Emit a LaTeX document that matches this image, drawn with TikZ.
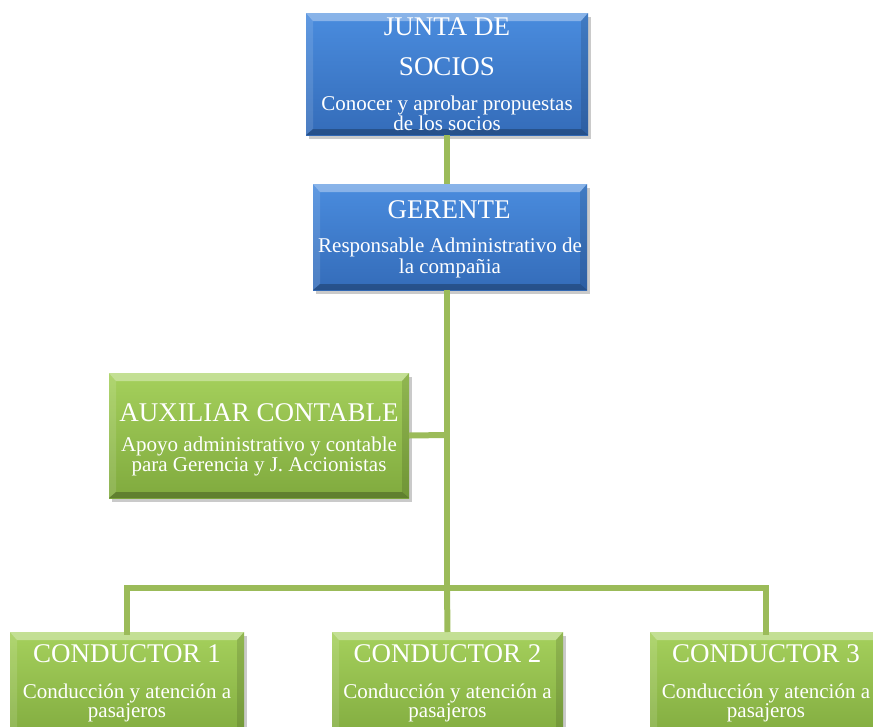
\documentclass[tikz,border=0pt]{standalone}
\usepackage{fontspec}
\setmainfont{Liberation Serif}
\usetikzlibrary{shadows,calc}
\definecolor{lnk}{RGB}{155,187,89}
\definecolor{blueT}{RGB}{74,140,222}
\definecolor{blueB}{RGB}{52,108,185}
\definecolor{greenT}{RGB}{165,208,92}
\definecolor{greenB}{RGB}{128,170,62}
\tikzset{
  bevelbox/.style 2 args={rectangle, inner sep=0pt, outer sep=0pt,
    drop shadow={shadow xshift=3pt, shadow yshift=-4pt, opacity=0.35, fill=black!60},
    path picture={
      \coordinate (pnw) at (path picture bounding box.north west);
      \coordinate (pse) at (path picture bounding box.south east);
      \coordinate (pne) at (path picture bounding box.north east);
      \coordinate (psw) at (path picture bounding box.south west);
      \fill[top color=#1, bottom color=#2] (pnw) rectangle (pse);
      \fill[white, opacity=0.35] (pnw) -- (pne) -- ($(pne)+(-7pt,-8pt)$) -- ($(pnw)+(7pt,-8pt)$) -- cycle;
      \fill[white, opacity=0.12] (pnw) -- ($(pnw)+(7pt,-8pt)$) -- ($(psw)+(7pt,6pt)$) -- (psw) -- cycle;
      \fill[black, opacity=0.12] (pne) -- ($(pne)+(-7pt,-8pt)$) -- ($(pse)+(-7pt,6pt)$) -- (pse) -- cycle;
      \fill[black, opacity=0.25] (psw) -- ($(psw)+(7pt,6pt)$) -- ($(pse)+(-7pt,6pt)$) -- (pse) -- cycle;
    }},
  bluebox/.style={bevelbox={blueT}{blueB}},
  greenbox/.style={bevelbox={greenT}{greenB}},
  ttl/.style={anchor=base, inner sep=0pt, text=white, font=\fontsize{27}{32}\selectfont},
  bdy/.style={anchor=base, inner sep=0pt, text=white, font=\fontsize{21}{24}\selectfont},
  conn/.style={draw=lnk, line width=6pt}
}
\begin{document}
\begin{tikzpicture}[x=1pt, y=-1pt]
\useasboundingbox (0,0) rectangle (873,726);
% connectors first (behind boxes)
\coordinate (hub) at (447,588);
\coordinate (auxj) at (447,435);
% boxes
\node[bluebox, minimum width=282pt, minimum height=122pt] (junta) at (447,74) {};
\node[bluebox, minimum width=274pt, minimum height=106pt] (ger) at (450,237) {};
\node[greenbox, minimum width=300pt, minimum height=125pt] (aux) at (259,435.5) {};
\node[greenbox, minimum width=234pt, minimum height=110pt] (c1) at (127,687) {};
\node[greenbox, minimum width=231pt, minimum height=110pt] (c2) at (447.5,687) {};
\node[greenbox, minimum width=232pt, minimum height=110pt] (c3) at (766,687) {};
\begin{scope}[on background layer/.style={}]
\end{scope}
% connectors
\draw[conn] (447,0 |- junta.south) -- (447,0 |- ger.north);
\draw[conn] (447,0 |- ger.south) -- (hub);
\draw[conn] (aux.east) -- (auxj);
\draw[conn, line cap=rect] (hub) -| (c1.north);
\draw[conn, line cap=rect] (hub) -| (c3.north);
\draw[conn] (hub) -- (c2.north);
% texts
\node[ttl] (t1a) at (447,35) {JUNTA DE};
\node[ttl] (t1b) at (447,75) {SOCIOS};
\node[bdy] (b1a) at (447,110) {Conocer y aprobar propuestas};
\node[bdy] (b1b) at (447,130) {de los socios};
\node[ttl] (t2) at (449,218) {GERENTE};
\node[bdy] (b2a) at (450,252) {Responsable Administrativo de};
\node[bdy] (b2b) at (450,273) {la compañia};
\node[ttl] (t3) at (259,421) {AUXILIAR CONTABLE};
\node[bdy] (b3a) at (259,451) {Apoyo administrativo y contable};
\node[bdy] (b3b) at (259,471) {para Gerencia y J. Accionistas};
\node[ttl] (t4) at (127,662) {CONDUCTOR 1};
\node[bdy] (b4a) at (127,698) {Conducción y atención a};
\node[bdy] (b4b) at (127,717) {pasajeros};
\node[ttl] (t5) at (447.5,662) {CONDUCTOR 2};
\node[bdy] (b5a) at (447.5,698) {Conducción y atención a};
\node[bdy] (b5b) at (447.5,717) {pasajeros};
\node[ttl] (t6) at (766,662) {CONDUCTOR 3};
\node[bdy] (b6a) at (766,698) {Conducción y atención a};
\node[bdy] (b6b) at (766,717) {pasajeros};
\end{tikzpicture}
\end{document}
